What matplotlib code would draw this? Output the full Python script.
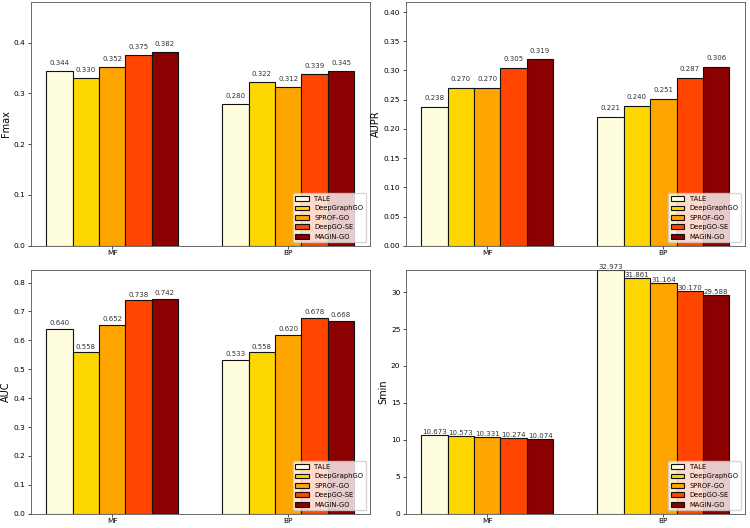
import numpy as np
from matplotlib import pyplot as plt

methods = ['TALE', 'DeepGraphGO', 'SPROF-GO', 'DeepGO-SE', 'MAGIN-GO']
colors = ['#FFFDE0', '#FFD700', '#FFA500', '#FF4500', '#8B0000']
groups = ['MF', 'BP']

# one row per method, columns are MF, BP
fmax = [[0.344, 0.280], [0.330, 0.322], [0.352, 0.312], [0.375, 0.339], [0.382, 0.345]]
aupr = [[0.238, 0.221], [0.270, 0.240], [0.270, 0.251], [0.305, 0.287], [0.319, 0.306]]
auc = [[0.640, 0.533], [0.558, 0.558], [0.652, 0.620], [0.738, 0.678], [0.742, 0.668]]
smin = [[10.673, 32.973], [10.573, 31.861], [10.331, 31.164], [10.274, 30.170], [10.074, 29.588]]

panels = [('Fmax', fmax, 0.48), ('AUPR', aupr, 0.417), ('AUC', auc, 0.843), ('Smin', smin, 32.973)]

plt.rcParams['axes.linewidth'] = 0.6
plt.rcParams['axes.edgecolor'] = '#555555'
plt.rcParams['xtick.major.size'] = 1.8
plt.rcParams['ytick.major.size'] = 2
plt.rcParams['xtick.major.width'] = 0.5
plt.rcParams['ytick.major.width'] = 0.5
plt.rcParams['xtick.major.pad'] = 1.5
plt.rcParams['ytick.major.pad'] = 2

fig, axes = plt.subplots(2, 2, figsize=(7.5, 5.28), dpi=100)
fig.subplots_adjust(left=0.041, right=0.993, bottom=0.027, top=0.996, wspace=0.107, hspace=0.1)

width = 0.15
x = np.arange(len(groups))
for ax, (name, data, ytop) in zip(axes.flat, panels):
    for i, m in enumerate(methods):
        pos = x + (i - 2) * width
        bars = ax.bar(pos, data[i], width, color=colors[i], edgecolor='#111111',
                      linewidth=0.8, label=m)
        for b, v in zip(bars, data[i]):
            ax.text(b.get_x() + b.get_width() / 2, v + 0.01, '%.3f' % v,
                    ha='center', va='bottom', fontsize=5, color='#333333')
    ax.set_xticks(x)
    ax.set_xticklabels(groups)
    ax.set_ylabel(name, fontsize=7, labelpad=2)
    ax.set_ylim(0, ytop)
    ax.tick_params(labelsize=5.3)
    ax.legend(loc='lower right', fontsize=4.9)

plt.savefig('out.png', dpi=100)
